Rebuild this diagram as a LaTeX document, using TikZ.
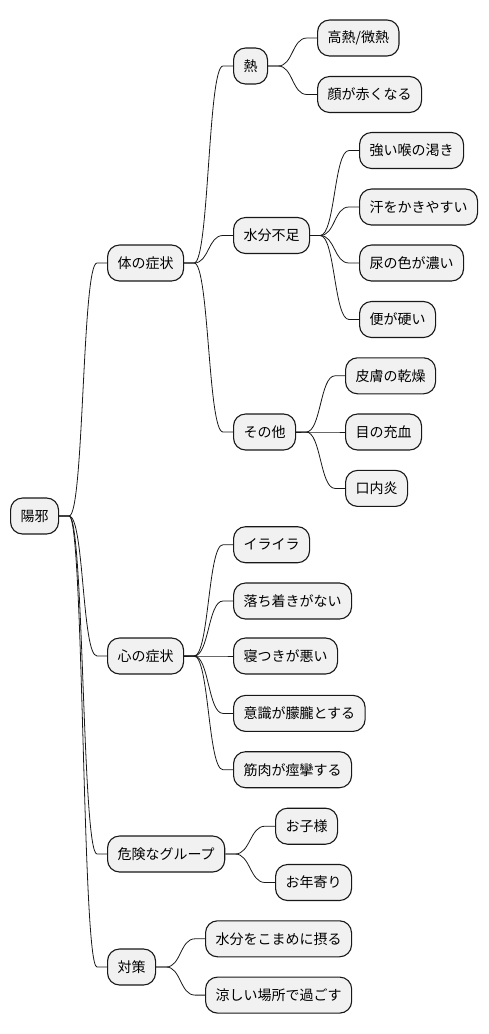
\documentclass[tikz,border=0pt]{standalone}
\usepackage{fontspec}
\usepackage{tikz}
\newfontfamily\jpfont{Noto Sans CJK JP}
\definecolor{boxfill}{HTML}{F1F1F1}
\definecolor{boxline}{HTML}{181818}

\begin{document}
\begin{tikzpicture}[x=1pt,y=-1pt,
  topic/.style={draw=boxline,fill=boxfill,line width=1.1pt,rounded corners=12pt,
    minimum height=36pt,inner xsep=10pt,inner ysep=0pt,anchor=west,
    font=\jpfont\fontsize{14}{16}\selectfont},
  link/.style={draw=boxline,line width=0.8pt}]
\useasboundingbox (0,0) rectangle (488,1034);
% root
\node [topic] (yang) at (10,516) {陽邪};
% first level
\node [topic] (body) at (107,263) {体の症状};
\node [topic] (mind) at (107,656) {心の症状};
\node [topic] (risk) at (107,854) {危険なグループ};
\node [topic] (care) at (107,967) {対策};
% body
\node [topic] (heat) at (233,66) {熱};
\node [topic] (water) at (233,235.5) {水分不足};
\node [topic] (other) at (233,432) {その他};
\node [topic] (fever) at (317,38) {高熱/微熱};
\node [topic] (redface) at (317,94.5) {顔が赤くなる};
\node [topic] (thirst) at (359,150.5) {強い喉の渇き};
\node [topic] (sweat) at (359,207) {汗をかきやすい};
\node [topic] (urine) at (359,263) {尿の色が濃い};
\node [topic] (stool) at (359,319.5) {便が硬い};
\node [topic] (skin) at (345,375.8) {皮膚の乾燥};
\node [topic] (eyes) at (345,432) {目の充血};
\node [topic] (mouth) at (345,488.4) {口内炎};
% mind
\node [topic] (irritate) at (233,544.7) {イライラ};
\node [topic] (restless) at (233,601) {落ち着きがない};
\node [topic] (sleep) at (233,656) {寝つきが悪い};
\node [topic] (dazed) at (233,713.4) {意識が朦朧とする};
\node [topic] (cramp) at (233,769.7) {筋肉が痙攣する};
% risk group
\node [topic] (kids) at (275,826.2) {お子様};
\node [topic] (elder) at (275,882.5) {お年寄り};
% measures
\node [topic] (drink) at (205,938.8) {水分をこまめに摂る};
\node [topic] (cool) at (205,995.1) {涼しい場所で過ごす};
% connectors
\foreach \p/\c in {yang/body,yang/mind,yang/risk,yang/care,
    body/heat,body/water,body/other,
    heat/fever,heat/redface,
    water/thirst,water/sweat,water/urine,water/stool,
    other/skin,other/eyes,other/mouth,
    mind/irritate,mind/restless,mind/sleep,mind/dazed,mind/cramp,
    risk/kids,risk/elder,care/drink,care/cool}
  \draw [link] (\p.east) -- ++(10,0) .. controls +(15,0) and +(-15,0) .. ([xshift=-10pt]\c.west) -- (\c.west);
\end{tikzpicture}
\end{document}
